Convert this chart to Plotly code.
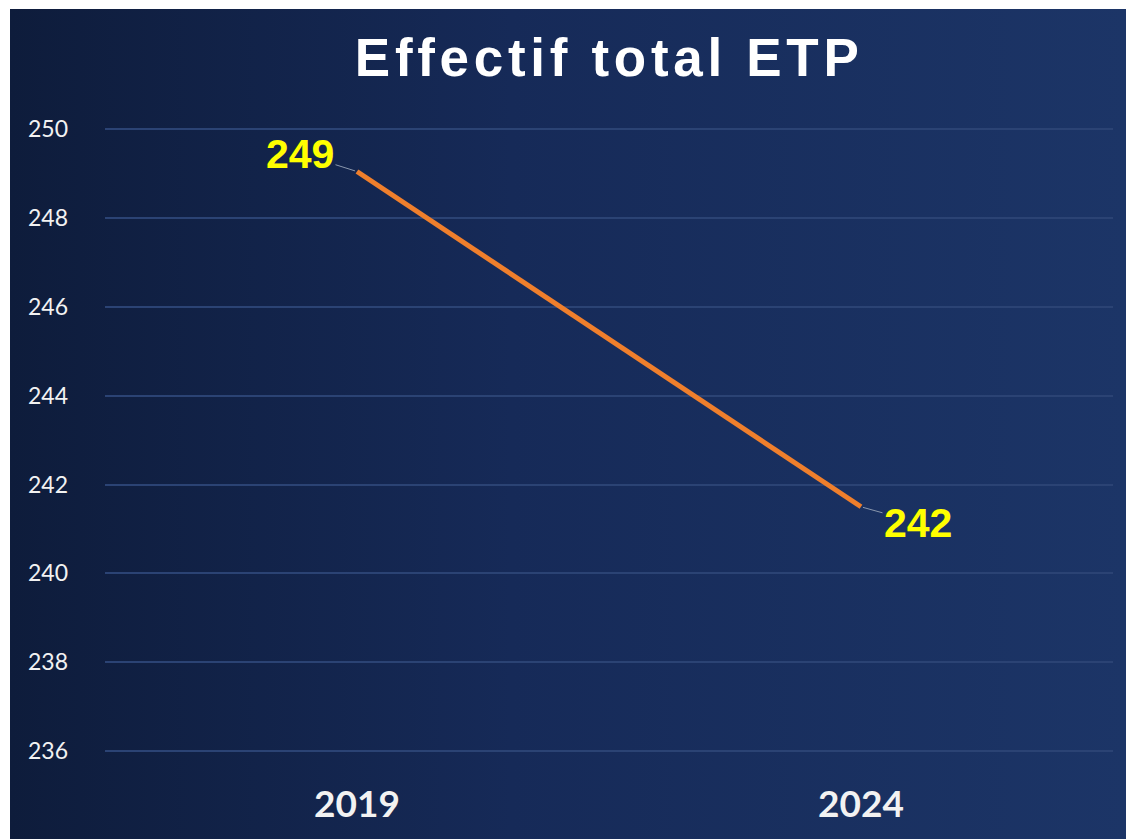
import base64
import plotly.graph_objects as go

# ---- data ----
years = ["2019", "2024"]
etp_values = [249.05, 241.5]
etp_labels = ["249", "242"]
y_ticks = [236, 238, 240, 242, 244, 246, 248, 250]
title_text = "Effectif total ETP"

# ---- layout geometry (pixels) ----
W, H = 1126, 839
L, R, T, B = 105, 13, 128, 60
pw, ph = W - L - R, H - T - B

def px_to_paper_x(px):
    return (px - L) / pw

def px_to_paper_y(py):
    return (H - B - py) / ph

svg = (
    '<svg xmlns="http://www.w3.org/2000/svg" width="1000" height="1000" preserveAspectRatio="none">'
    '<defs><linearGradient id="g" x1="0" y1="0" x2="1" y2="0">'
    '<stop offset="0" stop-color="#0e1c3b"/>'
    '<stop offset="0.45" stop-color="#162a58"/>'
    '<stop offset="1" stop-color="#1c3567"/>'
    '</linearGradient></defs>'
    '<rect x="0" y="0" width="1000" height="1000" fill="url(#g)"/></svg>'
)
bg_uri = "data:image/svg+xml;base64," + base64.b64encode(svg.encode()).decode()

fig = go.Figure()
fig.add_trace(go.Scatter(
    x=years, y=etp_values, mode="lines",
    line=dict(color="#EF7F2C", width=5),
    hoverinfo="skip", showlegend=False,
))

offsets = [(-57, -18), (57, 16)]
for i, (v, lab, (ax, ay)) in enumerate(zip(etp_values, etp_labels, offsets)):
    fig.add_annotation(
        x=i, y=v, xref="x", yref="y", text=lab,
        showarrow=True, ax=ax, ay=ay, arrowhead=0, arrowwidth=1,
        arrowcolor="#8a97ad", standoff=2,
        font=dict(family="Liberation Sans, Arial", size=41, color="#FFFF00", weight="bold"),
    )

fig.add_layout_image(dict(
    source=bg_uri, xref="paper", yref="paper",
    x=px_to_paper_x(10), y=px_to_paper_y(9),
    sizex=px_to_paper_x(W) - px_to_paper_x(10),
    sizey=px_to_paper_y(9) - px_to_paper_y(H),
    sizing="stretch", xanchor="left", yanchor="top", layer="below",
))

fig.update_layout(
    width=W, height=H,
    margin=dict(l=L, r=R, t=T, b=B),
    paper_bgcolor="white",
    plot_bgcolor="rgba(0,0,0,0)",
    title=dict(
        text='<span style="letter-spacing:4.7px">' + title_text + '</span>',
        x=0.541, xanchor="center", y=1 - 57 / H, yanchor="middle",
        font=dict(family="Liberation Sans, Arial", size=53, color="white", weight="bold"),
    ),
    xaxis=dict(
        type="category", range=[-0.5, 1.5], showgrid=False, zeroline=False,
        showline=False, ticks="", automargin=False,
        tickfont=dict(family="Lato", size=37, color="#f2f2f2", weight="bold"),
        ticklabelstandoff=0,
    ),
    yaxis=dict(
        range=[235.37, 250.03], tickvals=y_ticks, showgrid=True,
        gridcolor="#2b4374", gridwidth=1.5, zeroline=False, showline=False,
        ticks="", automargin=False,
        tickfont=dict(family="Lato", size=23, color="#f2f2f2"),
        ticklabelstandoff=36,
    ),
)

fig.write_html(
    "out.html",
    config={"displayModeBar": False},
    post_script="document.body.style.margin='0';document.body.style.overflow='hidden';",
)
